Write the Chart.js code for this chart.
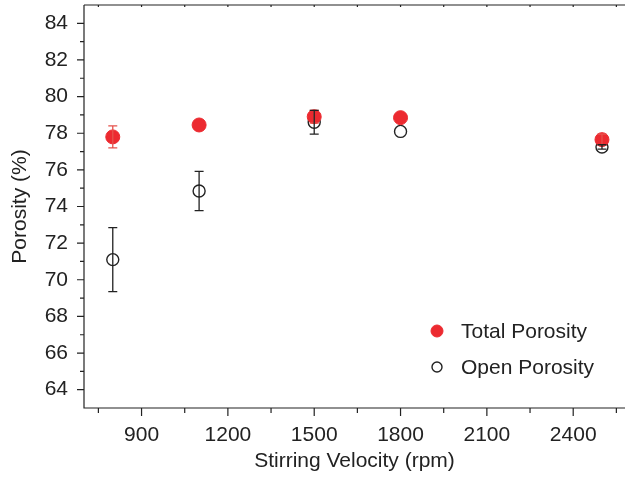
<!DOCTYPE html>
<html>
<head>
<meta charset="utf-8">
<script src="https://cdn.jsdelivr.net/npm/chart.js@4.4.0/dist/chart.umd.min.js"></script>
<style>
  html, body { margin: 0; padding: 0; background: #fff; overflow: hidden; }
  #wrap { width: 625px; height: 477px; }
</style>
</head>
<body>
<div id="wrap"><canvas id="chart"></canvas></div>
<script>
const speeds = [800, 1100, 1500, 1800, 2500];
const totalPorosity = [77.8, 78.45, 78.9, 78.85, 77.65];
const totalErr = [0.6, 0, 0.35, 0, 0.3];
const openPorosity = [71.1, 74.85, 78.6, 78.1, 77.25];
const openErr = [1.75, 1.07, 0.65, 0, 0.12];

const xTicks = [900, 1200, 1500, 1800, 2100, 2400];
const xMinor = [750, 1050, 1350, 1650, 1950, 2250, 2550];
const yTicks = [64, 66, 68, 70, 72, 74, 76, 78, 80, 82, 84];
const yMinor = [65, 67, 69, 71, 73, 75, 77, 79, 81, 83];

const RED = '#ec2a30';
const RED_BAR = '#e5524c';
const INK = '#222';
const FONT = "'Liberation Sans', Arial, Helvetica, sans-serif";
const FONT_SIZE = 21;

const toPoints = (ys, errs) => speeds.map((x, i) => ({ x, y: ys[i], err: errs[i] }));

// axis lines, outward ticks on left/bottom, tiny inward ticks on the top frame
const frameAxes = {
  id: 'frameAxes',
  afterDraw: (chart) => {
    const { ctx, chartArea: a, scales } = chart;
    const x = scales.x, y = scales.y;
    ctx.save();
    ctx.strokeStyle = INK;
    ctx.lineWidth = 1.2;
    ctx.beginPath();
    ctx.moveTo(a.left, a.top);
    ctx.lineTo(a.right, a.top);
    ctx.moveTo(a.left, a.top);
    ctx.lineTo(a.left, a.bottom);
    ctx.lineTo(a.right, a.bottom);
    yTicks.forEach((v) => {
      const py = y.getPixelForValue(v);
      ctx.moveTo(a.left - 7, py);
      ctx.lineTo(a.left, py);
    });
    yMinor.forEach((v) => {
      const py = y.getPixelForValue(v);
      ctx.moveTo(a.left - 4, py);
      ctx.lineTo(a.left, py);
    });
    xTicks.forEach((v) => {
      const px = x.getPixelForValue(v);
      ctx.moveTo(px, a.bottom);
      ctx.lineTo(px, a.bottom + 8);
      ctx.moveTo(px, a.top);
      ctx.lineTo(px, a.top + 2);
    });
    xMinor.forEach((v) => {
      const px = x.getPixelForValue(v);
      ctx.moveTo(px, a.bottom);
      ctx.lineTo(px, a.bottom + 5);
      ctx.moveTo(px, a.top);
      ctx.lineTo(px, a.top + 2);
    });
    ctx.stroke();
    ctx.restore();
  },
};

const errorBars = {
  id: 'errorBars',
  afterDatasetsDraw: (chart) => {
    const { ctx, scales } = chart;
    ctx.save();
    chart.data.datasets.forEach((ds) => {
      ctx.strokeStyle = ds.barColor;
      ctx.lineWidth = 1.3;
      ctx.beginPath();
      ds.data.forEach((p) => {
        if (!p.err) return;
        const px = scales.x.getPixelForValue(p.x);
        const top = scales.y.getPixelForValue(p.y + p.err);
        const bot = scales.y.getPixelForValue(p.y - p.err);
        ctx.moveTo(px, top);
        ctx.lineTo(px, bot);
        ctx.moveTo(px - 4.5, top);
        ctx.lineTo(px + 4.5, top);
        ctx.moveTo(px - 4.5, bot);
        ctx.lineTo(px + 4.5, bot);
      });
      ctx.stroke();
    });
    ctx.restore();
  },
};

// legend sitting inside the plot, lower right
const insideLegend = {
  id: 'insideLegend',
  afterDraw: (chart) => {
    const { ctx, chartArea: a } = chart;
    ctx.save();
    ctx.font = `${FONT_SIZE}px ${FONT}`;
    ctx.textBaseline = 'middle';
    chart.data.datasets.forEach((ds, i) => {
      const cx = a.right - 188;
      const cy = a.bottom - 77 + i * 36;
      ctx.beginPath();
      ctx.arc(cx, cy, ds.pointRadius - 1, 0, Math.PI * 2);
      ctx.fillStyle = ds.pointBackgroundColor;
      ctx.fill();
      ctx.lineWidth = ds.pointBorderWidth;
      ctx.strokeStyle = ds.pointBorderColor;
      ctx.stroke();
      ctx.fillStyle = INK;
      ctx.fillText(ds.label, cx + 24, cy + 1);
    });
    ctx.restore();
  },
};

new Chart(document.getElementById('chart'), {
  type: 'scatter',
  data: {
    datasets: [
      {
        label: 'Total Porosity',
        data: toPoints(totalPorosity, totalErr),
        pointRadius: 7,
        pointBackgroundColor: RED,
        pointBorderColor: RED,
        pointBorderWidth: 1,
        barColor: RED_BAR,
      },
      {
        label: 'Open Porosity',
        data: toPoints(openPorosity, openErr),
        pointRadius: 6,
        pointBackgroundColor: '#fff',
        pointBorderColor: INK,
        pointBorderWidth: 1.4,
        barColor: INK,
      },
    ],
  },
  plugins: [errorBars, frameAxes, insideLegend],
  options: {
    responsive: true,
    maintainAspectRatio: false,
    animation: false,
    devicePixelRatio: 1,
    layout: { autoPadding: false, padding: { top: 5, right: 0, left: 0, bottom: 0 } },
    plugins: {
      legend: { display: false },
      tooltip: { enabled: false },
    },
    scales: {
      x: {
        type: 'linear',
        min: 700,
        max: 2580,
        grid: { display: false },
        border: { display: false },
        afterBuildTicks: (scale) => {
          scale.ticks = xTicks.map((value) => ({ value }));
        },
        afterFit: (scale) => {
          scale.height = 69;
          scale.paddingLeft = 0;
          scale.paddingRight = 0;
        },
        ticks: {
          padding: 7,
          color: INK,
          font: { family: FONT, size: FONT_SIZE },
          maxRotation: 0,
          callback: (value) => String(value),
        },
        title: {
          display: true,
          text: 'Stirring Velocity (rpm)',
          color: INK,
          font: { family: FONT, size: FONT_SIZE },
          padding: { top: 0, bottom: 3 },
        },
      },
      y: {
        min: 63,
        max: 85,
        grid: { display: false },
        border: { display: false },
        afterBuildTicks: (scale) => {
          scale.ticks = yTicks.map((value) => ({ value }));
        },
        afterFit: (scale) => {
          scale.width = 84;
          scale.paddingTop = 0;
          scale.paddingBottom = 0;
        },
        ticks: {
          padding: 8,
          color: INK,
          font: { family: FONT, size: FONT_SIZE },
          callback: (value) => String(value),
        },
        title: {
          display: true,
          text: 'Porosity (%)',
          color: INK,
          font: { family: FONT, size: FONT_SIZE },
          padding: { top: 8, bottom: 0 },
        },
      },
    },
  },
});
</script>
</body>
</html>
